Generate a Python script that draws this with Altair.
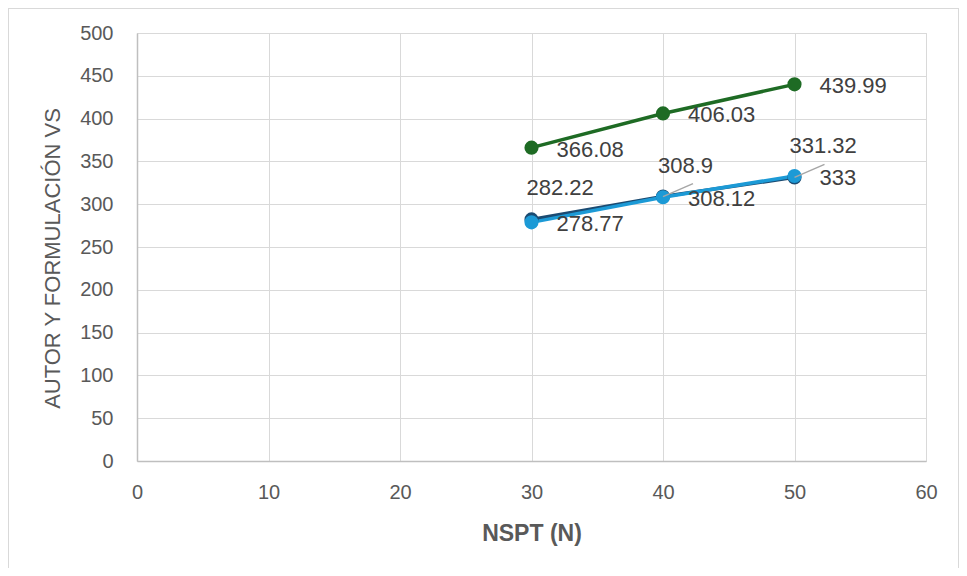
import altair as alt
import pandas as pd

# ---- data ----
nspt = [30, 40, 50]
series_names = ["1 verde", "2 azul oscuro", "3 azul claro"]
green_vals = [366.08, 406.03, 439.99]
dark_vals = [282.22, 308.9, 331.32]
light_vals = [278.77, 308.12, 333]
series_colors = ["#1E6B24", "#1B4B72", "#1C9AD6"]

x_ticks = [0, 10, 20, 30, 40, 50, 60]
y_ticks = [0, 50, 100, 150, 200, 250, 300, 350, 400, 450, 500]

rows = []
for name, vals in zip(series_names, [green_vals, dark_vals, light_vals]):
    for n, v in zip(nspt, vals):
        rows.append({"series": name, "N": n, "value": v})
df = pd.DataFrame(rows)

W, H = 789, 428
PAD = {"left": 129, "top": 25, "right": 33, "bottom": 107}

x_enc = alt.X(
    "N:Q",
    scale=alt.Scale(domain=[0, 60], nice=False),
    axis=alt.Axis(
        values=x_ticks, title="NSPT (N)", grid=True, gridColor="#D9D9D9",
        domainColor="#BFBFBF", domainWidth=1.5, ticks=False, labelFlush=False,
        labelFont="Liberation Sans", labelFontSize=20, labelColor="#595959",
        labelPadding=21,
        titleFont="Liberation Sans", titleFontSize=23, titleFontWeight="bold",
        titleColor="#595959", titleX=W / 2, titleY=72, titleBaseline="middle",
    ),
)
y_enc = alt.Y(
    "value:Q",
    scale=alt.Scale(domain=[0, 500], nice=False),
    axis=alt.Axis(
        values=y_ticks, title="AUTOR Y FORMULACIÓN VS", grid=True,
        gridColor="#D9D9D9", domainColor="#BFBFBF", domainWidth=1.5, ticks=False,
        labelFlush=False,
        labelFont="Liberation Sans", labelFontSize=20, labelColor="#595959",
        labelPadding=24,
        titleFont="Liberation Sans", titleFontSize=22, titleFontWeight="normal",
        titleColor="#595959", titleAngle=-90, titleX=-85, titleY=H / 2 + 11,
        titleBaseline="middle", titleAlign="center",
    ),
)
color_enc = alt.Color(
    "series:N",
    scale=alt.Scale(domain=series_names, range=series_colors),
    legend=None,
)

base = alt.Chart(df)

lines = base.mark_line(strokeWidth=3.5).encode(x=x_enc, y=y_enc, color=color_enc)
points = base.mark_circle(size=200, opacity=1).encode(x="N:Q", y="value:Q", color=color_enc)

label_style = dict(font="Liberation Sans", fontSize=22, color="#404040")

lab_green = base.transform_filter(alt.datum.series == series_names[0]).mark_text(
    align="left", baseline="middle", dx=25, dy=2, **label_style
).encode(x="N:Q", y="value:Q", text=alt.Text("value:Q", format=".2f"))

lab_dark = base.transform_filter(alt.datum.series == series_names[1]).mark_text(
    align="left", baseline="middle", dx=-5, dy=-31, **label_style
).encode(x="N:Q", y="value:Q", text=alt.Text("value:Q", format="~f"))

lab_light = base.transform_filter(alt.datum.series == series_names[2]).mark_text(
    align="left", baseline="middle", dx=25, dy=2, **label_style
).encode(x="N:Q", y="value:Q", text=alt.Text("value:Q", format="~f"))

leaders = base.transform_filter(
    (alt.datum.series == series_names[1]) & (alt.datum.N > 30)
).mark_rule(color="#A6A6A6", strokeWidth=1.5, x2Offset=30, y2Offset=-13).encode(
    x="N:Q", y="value:Q", x2="N:Q", y2="value:Q"
)

# outer chart frame (decoration)
frame_left = base.mark_rule(color="#D9D9D9", strokeWidth=1, clip=False).encode(
    x=alt.value(-PAD["left"] + 0.5), y=alt.value(-PAD["top"] + 0.5), y2=alt.value(H + PAD["bottom"])
)
frame_top = base.mark_rule(color="#D9D9D9", strokeWidth=1, clip=False).encode(
    x=alt.value(-PAD["left"] + 0.5), x2=alt.value(W + PAD["right"] - 0.5), y=alt.value(-PAD["top"] + 0.5)
)
frame_right = base.mark_rule(color="#D9D9D9", strokeWidth=1, clip=False).encode(
    x=alt.value(W + PAD["right"] - 0.5), y=alt.value(-PAD["top"] + 0.5), y2=alt.value(H + PAD["bottom"])
)

chart = alt.layer(
    frame_left, frame_top, frame_right,
    lines, points, leaders, lab_green, lab_dark, lab_light,
).properties(
    width=W, height=H,
    autosize=alt.AutoSizeParams(type="none"),
    padding=PAD,
    background="white",
).configure_view(stroke="#D9D9D9", strokeWidth=1)

chart.save("out.html", embed_options={"renderer": "svg", "actions": False})
